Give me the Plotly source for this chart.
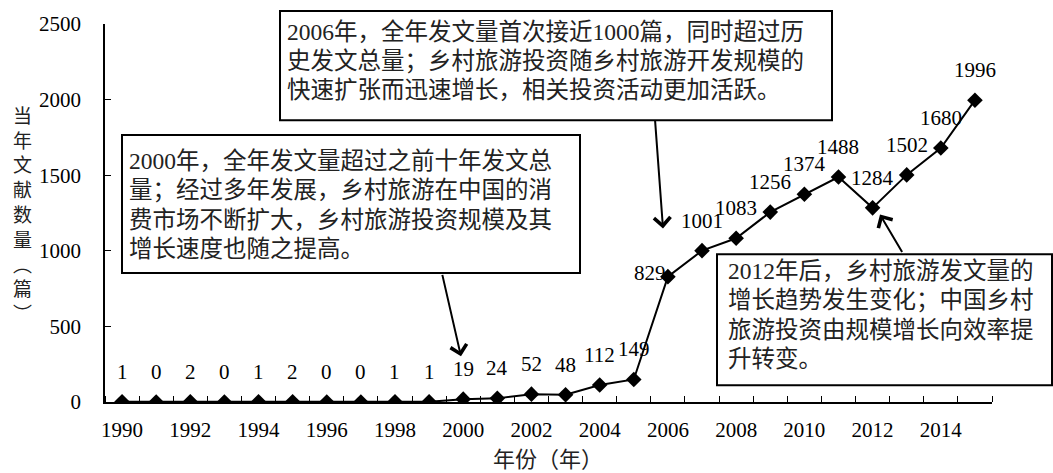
import plotly.graph_objects as go

years = list(range(1990, 2016))
counts = [1, 0, 2, 0, 1, 2, 0, 0, 1, 1, 19, 24, 52, 48, 112, 149,
          829, 1001, 1083, 1256, 1374, 1488, 1284, 1502, 1680, 1996]
x_tick_labels = [str(y) for y in range(1990, 2015, 2)]
y_ticks = [0, 500, 1000, 1500, 2000, 2500]
y_title_chars = ["当", "年", "文", "献", "数", "量", "︵", "篇", "︶"]
x_title = "年份（年）"

note_2000 = ["2000年，全年发文量超过之前十年发文总",
             "量；经过多年发展，乡村旅游在中国的消",
             "费市场不断扩大，乡村旅游投资规模及其",
             "增长速度也随之提高。"]
note_2006 = ["2006年，全年发文量首次接近1000篇，同时超过历",
             "史发文总量；乡村旅游投资随乡村旅游开发规模的",
             "快速扩张而迅速增长，相关投资活动更加活跃。"]
note_2012 = ["2012年后，乡村旅游发文量的",
             "增长趋势发生变化；中国乡村",
             "旅游投资由规模增长向效率提",
             "升转变。"]

W, H = 1053, 473
L, R, T, B = 105, 61, 21, 71
PW, PH = W - L - R, H - T - B
FONT = "Liberation Serif, Noto Sans CJK SC"


def px(p):
    return (p - L) / PW


def py(p):
    return (H - B - p) / PH


fig = go.Figure()
fig.add_trace(go.Scatter(
    x=years, y=counts, mode="lines+markers",
    line=dict(color="black", width=2),
    marker=dict(symbol="diamond", size=12, color="black"),
    hoverinfo="x+y", showlegend=False,
))

annotations = []
shapes = []
# data labels (placement tweak for the 2006 label, which sits left of its point)
label_shift = {2006: (-18, 4)}
for yr, v in zip(years, counts):
    dx, dy = label_shift.get(yr, (0, 30))
    annotations.append(dict(
        x=yr, y=v, xref="x", yref="y", text=str(v), showarrow=False,
        xshift=dx, yshift=dy, font=dict(family=FONT, size=21, color="black"),
    ))

# y title stacked
for i, ch in enumerate(y_title_chars):
    annotations.append(dict(
        x=px(22), y=py(112 + 25 * i), xref="paper", yref="paper", text=ch,
        showarrow=False, xanchor="center", yanchor="middle",
        font=dict(family="Noto Sans CJK SC", size=19, color="#222"),
    ))

annotations.append(dict(
    x=px(548), y=py(457), xref="paper", yref="paper", text=x_title,
    showarrow=False, xanchor="center", yanchor="middle",
    font=dict(family="Noto Sans CJK SC", size=22, color="#222"),
))


def box(lines, left, top, right, bottom, text_left, first_y, step):
    shapes.append(dict(
        type="rect", xref="paper", yref="paper",
        x0=px(left), x1=px(right), y0=py(bottom), y1=py(top),
        line=dict(color="black", width=2), fillcolor="white", layer="above",
    ))
    for i, ln in enumerate(lines):
        annotations.append(dict(
            x=px(text_left), y=py(first_y + step * i), xref="paper", yref="paper",
            text=ln, showarrow=False, xanchor="left", yanchor="middle",
            font=dict(family=FONT, size=23.5, color="#222"),
        ))


box(note_2000, 122, 133, 580, 272, 127, 159, 29.7)
box(note_2006, 280, 8, 832, 118, 285, 29, 29.5)
box(note_2012, 717, 253, 1052, 385, 726, 270, 29.5)


def arrow(hx, hy, tx, ty):
    return dict(
        x=px(hx), y=py(hy), xref="paper", yref="paper", text="",
        showarrow=True, ax=tx - hx, ay=ty - hy, axref="pixel", ayref="pixel",
        arrowhead=4, arrowsize=1.6, arrowwidth=2, arrowcolor="black",
        standoff=0, startstandoff=0,
    )


annotations.append(arrow(461, 356, 442, 273))
annotations.append(arrow(663, 227, 655, 118))
annotations.append(arrow(880, 213, 903, 252))

fig.update_layout(
    width=W, height=H,
    margin=dict(l=L, r=R, t=T, b=B, pad=0),
    paper_bgcolor="white", plot_bgcolor="white",
    font=dict(family=FONT, size=21, color="black"),
    annotations=annotations,
    shapes=shapes,
    xaxis=dict(
        range=[1989.5, 2015.5], tickmode="array",
        tickvals=[int(t) for t in x_tick_labels], ticktext=x_tick_labels,
        ticks="", showgrid=False, zeroline=False,
        showline=True, linecolor="black", linewidth=1.5,
        tickfont=dict(family=FONT, size=21, color="black"),
        ticklabelstandoff=8,
        minor=dict(tickmode="array", tickvals=[y - 0.5 for y in years] + [2015.5],
                   ticks="inside", ticklen=6, tickcolor="black", tickwidth=1.2,
                   showgrid=False),
    ),
    yaxis=dict(
        range=[0, 2500], tickmode="array", tickvals=y_ticks,
        ticks="inside", ticklen=6, tickcolor="black", tickwidth=1.2,
        showgrid=False, zeroline=False,
        showline=True, linecolor="black", linewidth=1.5,
        tickfont=dict(family=FONT, size=21, color="black"),
        ticklabelstandoff=18,
    ),
)

fig.write_html("out.html", config={"displayModeBar": False},
               post_script="document.body.style.margin='0';document.body.style.overflow='hidden';")
